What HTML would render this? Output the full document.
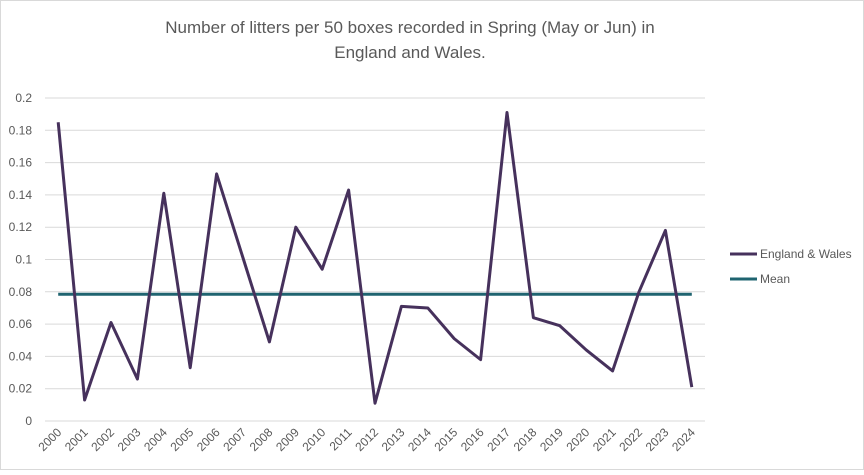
<!DOCTYPE html>
<html><head><meta charset="utf-8"><style>
body{margin:0;background:#fff;font-family:"Liberation Sans",sans-serif;}
svg text{font-family:"Liberation Sans",sans-serif;fill:#595959;}
</style></head><body>
<svg id="chart" width="864" height="470" xmlns="http://www.w3.org/2000/svg">
<rect x="0.5" y="0.5" width="863" height="469" fill="#fff" stroke="#d9d9d9"/>
<text x="410" y="33" font-size="17" text-anchor="middle">Number of litters per 50 boxes recorded in Spring (May or Jun) in</text>
<text x="410" y="58" font-size="17" text-anchor="middle">England and Wales.</text>
<g id="grid"></g><g id="ylabels"></g><g id="xlabels"></g><g id="series"></g>
<g>
<line x1="730" y1="254" x2="757" y2="254" stroke="#46315c" stroke-width="3"/>
<text x="760" y="258" font-size="12">England &amp; Wales</text>
<line x1="730" y1="279" x2="757" y2="279" stroke="#1f6470" stroke-width="3"/>
<text x="760" y="283" font-size="12">Mean</text>
</g>
</svg>
<script>
const years=[2000,2001,2002,2003,2004,2005,2006,2007,2008,2009,2010,2011,2012,2013,2014,2015,2016,2017,2018,2019,2020,2021,2022,2023,2024];
const litters=[0.185,0.013,0.061,0.026,0.141,0.033,0.153,0.101,0.049,0.120,0.094,0.143,0.011,0.071,0.070,0.051,0.038,0.191,0.064,0.059,0.044,0.031,0.080,0.118,0.021];
const meanValue=0.0785;
const yTicks=[0,0.02,0.04,0.06,0.08,0.1,0.12,0.14,0.16,0.18,0.2];
const tickLabels=["0","0.02","0.04","0.06","0.08","0.1","0.12","0.14","0.16","0.18","0.2"];
const NS="http://www.w3.org/2000/svg";
const x0=45,x1=705,y0=421,y1=98;
const step=(x1-x0)/years.length;
const X=i=>x0+step*(i+0.5);
const Y=v=>y0-(v/0.2)*(y0-y1);
function mk(t,a,p){const e=document.createElementNS(NS,t);for(const k in a)e.setAttribute(k,a[k]);document.getElementById(p).appendChild(e);return e;}
yTicks.forEach((v,i)=>{
 const l=mk('line',{x1:x0,x2:x1,y1:Y(v),y2:Y(v),stroke:'#d9d9d9','stroke-width':1},'grid');
 
 
 const t=mk('text',{x:32,y:Y(v)+4,'font-size':12,'text-anchor':'end'},'ylabels');
 t.textContent=tickLabels[i];
 
 
});
years.forEach((yr,i)=>{
 const t=mk('text',{x:X(i)+4,y:433,'font-size':12,'text-anchor':'end',transform:`rotate(-45 ${X(i)+4} 433)`},'xlabels');
 t.textContent=yr;
 
 
});
const m=mk('line',{x1:X(0),x2:X(years.length-1),y1:Y(meanValue),y2:Y(meanValue),stroke:'#1f6470','stroke-width':3},'series');


const p=mk('polyline',{points:litters.map((v,i)=>X(i)+','+Y(v)).join(' '),fill:'none',stroke:'#46315c','stroke-width':3,'stroke-linejoin':'round'},'series');


</script>
</body></html>
